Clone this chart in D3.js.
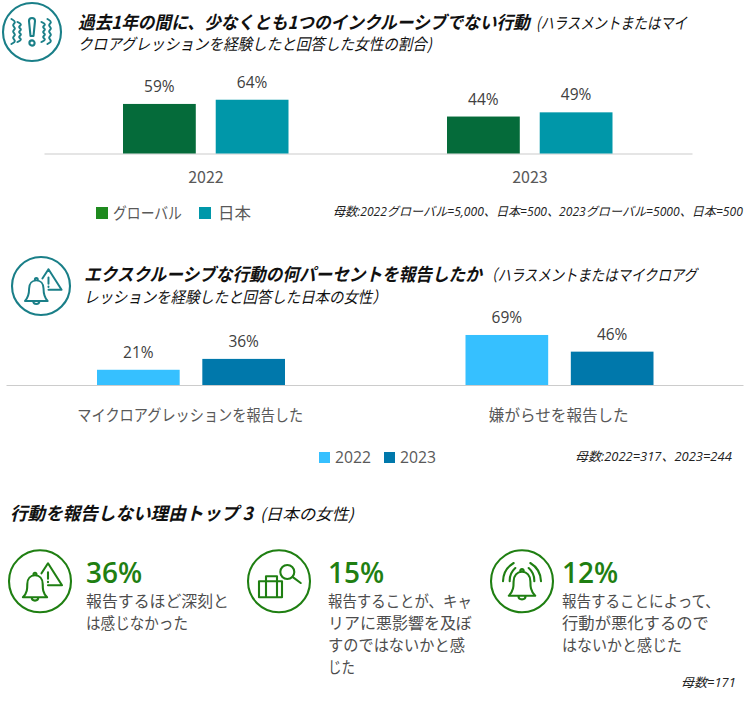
<!DOCTYPE html>
<html lang="ja">
<head>
<meta charset="utf-8">
<style>
  html, body { margin: 0; padding: 0; background: #fff; }
  text { font-family: "Noto Sans CJK JP", "Noto Sans", sans-serif; }
  .num { font-family: "Open Sans", "Noto Sans CJK JP", sans-serif; }
  .heading { font-style: italic; fill: #111; }
  .note { font-style: italic; font-size: 12.5px; fill: #222; }
  .icon { fill: none; stroke-linecap: round; stroke-linejoin: round; }
</style>
<script src="https://cdn.jsdelivr.net/npm/d3@7"></script>
</head>
<body>
<svg id="chart" width="745" height="714"></svg>
<script>
  // chart 1
  const years = ['2022', '2023'];
  const regions = ['グローバル', '日本'];
  const globalValues = [59, 44];
  const japanValues = [64, 49];

  // chart 2
  const reportTypes = ['マイクロアグレッションを報告した', '嫌がらせを報告した'];
  const reportYears = ['2022', '2023'];
  const reported2022 = [21, 69];
  const reported2023 = [36, 46];

  // top 3 reasons
  const reasonPercents = ['36%', '15%', '12%'];
  const reasonLines = [
    ['報告するほど深刻と', 'は感じなかった'],
    ['報告することが、キャ', 'リアに悪影響を及ぼ', 'すのではないかと感', 'じた'],
    ['報告することによって、', '行動が悪化するので', 'はないかと感じた']
  ];

  // the fonts here are wider than the original, so text is squeezed to the measured widths
  const reasonWidths = [[143, 102], [144, 144, 137, 27], [158, 147, 120]];

  const svg = d3.select('#chart');

  // squeeze a text horizontally to the given width
  function fit(sel, width) {
    const node = sel.node();
    const x = +sel.attr('x') || 0;
    const s = width / node.getComputedTextLength();
    return sel.attr('x', 0).attr('transform', 'translate(' + x + ',0) scale(' + s + ',1)');
  }

  function heading(x, y, str, width, size, weight) {
    fit(svg.append('text').attr('class', 'heading').attr('x', x).attr('y', y)
      .attr('font-size', size).attr('font-weight', weight).text(str), width);
  }

  function note(x, y, str, width) {
    fit(svg.append('text').attr('class', 'note num').attr('x', x).attr('y', y).text(str), width);
  }

  function barChart(opts) {
    const x0 = d3.scaleBand().domain(opts.categories).range(opts.xRange);
    const x1 = d3.scaleBand().domain([0, 1]).range(opts.innerRange).paddingInner(0.215);
    const y = d3.scaleLinear().domain([0, 100]).range([opts.baseline, opts.baseline - opts.pxPer100]);

    const axis = svg.append('g')
      .attr('transform', 'translate(0,' + opts.baseline + ')')
      .call(d3.axisBottom(x0).tickSize(0).tickPadding(opts.labelGap));
    axis.select('.domain').attr('stroke', opts.axisColor).attr('stroke-width', opts.axisWidth);
    axis.selectAll('.tick text')
      .attr('font-family', '"Open Sans", "Noto Sans CJK JP", sans-serif')
      .attr('font-size', 16).attr('fill', '#595959');
    if (opts.labelWidths) {
      axis.selectAll('.tick text').each(function (d, i) {
        fit(d3.select(this), opts.labelWidths[i]);
      });
    }

    opts.series.forEach(function (values, s) {
      const g = svg.append('g');
      g.selectAll('rect').data(values).enter().append('rect')
        .attr('x', function (d, i) { return x0(opts.categories[i]) + x1(s); })
        .attr('y', function (d) { return y(d); })
        .attr('width', x1.bandwidth())
        .attr('height', function (d) { return opts.baseline - y(d); })
        .attr('fill', opts.colors[s]);
      g.selectAll('text').data(values).enter().append('text')
        .attr('class', 'num')
        .attr('x', function (d, i) { return x0(opts.categories[i]) + x1(s) + x1.bandwidth() / 2; })
        .attr('y', function (d) { return y(d) - 12; })
        .attr('text-anchor', 'middle')
        .attr('font-size', 15.5).attr('fill', '#404040')
        .text(function (d) { return d + '%'; });
    });
  }

  function legend(items, colors, xs, textXs, widths, y, box) {
    items.forEach(function (label, i) {
      svg.append('rect').attr('x', xs[i]).attr('y', y - box).attr('width', box).attr('height', box).attr('fill', colors[i]);
      fit(svg.append('text').attr('class', 'num').attr('x', textXs[i]).attr('y', y + 0.5)
        .attr('font-size', 16).attr('fill', '#595959').text(label), widths[i]);
    });
  }

  function ring(cx, cy, r, color) {
    const g = svg.append('g').attr('class', 'icon').attr('stroke', color).attr('stroke-width', 2.1)
      .attr('transform', 'translate(' + cx + ',' + cy + ')');
    g.append('circle').attr('r', r);
    return g;
  }

  function bell(g, dx, dy, s) {
    g.append('path').attr('stroke-width', 2.1 / s)
      .attr('transform', 'translate(' + dx + ',' + dy + ') scale(' + s + ')')
      .attr('d', 'M-11,10 C-7,6 -7,2 -7,-2 C-7,-7 -4,-10 0,-10 C4,-10 7,-7 7,-2 C7,2 7,6 11,10 Z M-1.5,-10 C-1.5,-13 1.5,-13 1.5,-10 M-3,10 C-3,14 3,14 3,10');
  }

  function alertIcon(cx, cy, r, color) {
    const g = ring(cx, cy, r, color);
    const inner = g.append('g').attr('transform', 'scale(' + r / 31 + ')');
    bell(inner, -5, 5, 1.1);
    inner.append('path')
      .attr('d', 'M8,4 H22 L8,-18 L1.5,-8 M8,-9 V-2.5 M8,0.5 V1');
  }

  function wave(g, x, y0, y1, amp) {
    const line = d3.line().curve(d3.curveBasis);
    const n = 8;
    const pts = d3.range(n + 1).map(function (i) {
      return [x + (i % 2 ? amp : -amp), y0 + (y1 - y0) * i / n];
    });
    g.append('path').attr('stroke-width', 1.9).attr('d', line(pts));
  }

  // icon top left
  const shake = ring(32, 32, 29, '#1a7f88');
  wave(shake, -18, -13, 12, 2.6);
  wave(shake, -12, -10, 10, 2.6);
  wave(shake, 12, -10, 10, 2.6);
  wave(shake, 18, -13, 12, 2.6);
  shake.append('path').attr('d', 'M-3,-11 C-3,-15 3,-15 3,-11 L1.5,4 H-1.5 Z');
  shake.append('circle').attr('cy', 11).attr('r', 2.6);

  // section 1
  heading(78, 29, '過去1年の間に、少なくとも1つのインクルーシブでない行動', 452, 18, 700);
  heading(536, 29, '(ハラスメントまたはマイ', 151, 16, 400);
  heading(78, 50, 'クロアグレッションを経験したと回答した女性の割合)', 354, 16, 400);
  barChart({
    categories: years, series: [globalValues, japanValues], colors: ['#056b3a', '#0097a9'],
    xRange: [44, 692], innerRange: [79, 244.5], baseline: 153.5, pxPer100: 84,
    axisColor: '#dcdcdc', axisWidth: 1.6, labelGap: 18
  });
  legend(regions, ['#1f8a1f', '#0097a9'], [96, 199], [113, 218], [69, 33], 219, 12);
  note(333, 216, '母数:2022グローバル=5,000、日本=500、2023グローバル=5000、日本=500', 410);

  // section 2
  alertIcon(41, 286, 29, '#1a7f88');
  heading(84, 281, 'エクスクルーシブな行動の何パーセントを報告したか', 398, 18, 700);
  heading(484, 281, '（ハラスメントまたはマイクロアグ', 213, 16, 400);
  heading(84, 303, 'レッションを経験したと回答した日本の女性）', 303, 16, 400);
  barChart({
    categories: reportTypes, series: [reported2022, reported2023], colors: ['#36c0ff', '#0078ab'],
    xRange: [6, 743], innerRange: [91, 279], baseline: 385, pxPer100: 72.5,
    axisColor: '#cccccc', axisWidth: 1, labelGap: 25, labelWidths: [226, 140]
  });
  legend(reportYears, ['#36c0ff', '#0078ab'], [319, 384], [335, 400], [36, 36], 463, 11);
  note(575, 461, '母数:2022=317、2023=244', 157);

  // section 3
  heading(10, 520, '行動を報告しない理由トップ 3', 243, 18, 700);
  heading(260, 520, '(日本の女性)', 94, 16, 400);

  const reasonIconX = [40, 279, 522];
  const reasonTextX = [86, 328, 562];
  const green = '#1f7f12';

  alertIcon(reasonIconX[0], 581.3, 31, green);

  const search = ring(reasonIconX[1], 581.3, 31, green);
  search.append('path').attr('d', 'M-20,0 H3 V16 H-20 Z M-13,0 V16 M-2,0 V16 M-13,0 V-5 H-2 V0');
  search.append('circle').attr('cx', 8.3).attr('cy', -9.3).attr('r', 7);
  search.append('path').attr('d', 'M13.5,-4.5 L21.7,1.7');

  const ringing = ring(reasonIconX[2], 581.3, 31, green);
  bell(ringing, 0, 2.5, 1.2);
  ringing.append('path').attr('d', 'M-12.3,0 A17,17 0 0 1 -6.7,-13.3 M12.3,0 A17,17 0 0 0 6.7,-13.3 M-19,0 A22,22 0 0 1 -8.3,-18.3 M19,0 A22,22 0 0 0 8.3,-18.3');

  reasonPercents.forEach(function (p, i) {
    svg.append('text').attr('class', 'num').attr('x', reasonTextX[i]).attr('y', 583)
      .attr('font-size', 28).attr('font-weight', 600).attr('fill', green).text(p);
    reasonLines[i].forEach(function (line, k) {
      fit(svg.append('text').attr('x', reasonTextX[i]).attr('y', 607 + k * 22)
        .attr('font-size', 16).attr('fill', '#4d4d4d').text(line), reasonWidths[i][k]);
    });
  });

  note(681, 687, '母数=171', 55);
</script>
</body>
</html>
